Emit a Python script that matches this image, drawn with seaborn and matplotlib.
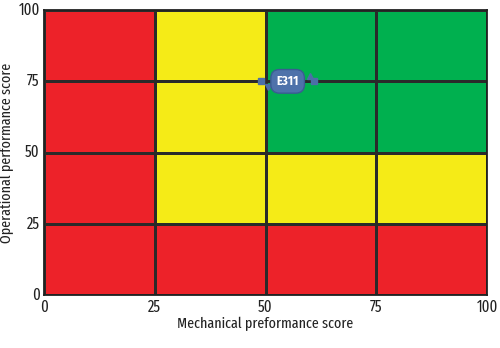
import numpy as np
import pandas as pd
import matplotlib
matplotlib.use("Agg")
import matplotlib.pyplot as plt
from matplotlib.colors import ListedColormap
import seaborn as sns

# Zone per cell: 0 = red, 1 = yellow, 2 = green (rows listed top to bottom)
zone_rows = [
    [0, 1, 2, 2],   # operational 75-100
    [0, 1, 2, 2],   # operational 50-75
    [0, 1, 1, 1],   # operational 25-50
    [0, 0, 0, 0],   # operational 0-25
]
x_ticks = [0, 25, 50, 75, 100]
y_ticks = [100, 75, 50, 25, 0]
zone_colors = ["#ED2229", "#F5EB17", "#00B04F"]

# Equipment position (mechanical score, operational score)
equip_name = "E311"
equip_mech = 55
equip_oper = 75

sns.set_theme(style="white")
narrow = ["Fira Sans Extra Condensed", "PT Sans Narrow", "DejaVu Sans"]
plt.rcParams["font.family"] = narrow

fig = plt.figure(figsize=(5.0, 3.48), dpi=100)
ax = fig.add_axes([0.088, 0.152, 0.886, 0.819])

grid = pd.DataFrame(zone_rows)
sns.heatmap(grid, ax=ax, cmap=ListedColormap(zone_colors), vmin=-0.5, vmax=2.5,
            cbar=False, linewidths=0.8, linecolor="#2a2a2a", square=False)

for s in ax.spines.values():
    s.set_visible(True)
    s.set_color("#222222")
    s.set_linewidth(1.3)

ax.set_xticks(np.arange(5))
ax.set_xticklabels([str(v) for v in x_ticks])
ax.set_yticks(np.arange(5))
ax.set_yticklabels([str(v) for v in y_ticks], rotation=0)
for lab in ax.get_xticklabels() + ax.get_yticklabels():
    lab.set_fontfamily(narrow)
    lab.set_fontsize(11.5)
    lab.set_color("#222222")
ax.tick_params(axis="both", length=0, pad=3)
font = dict(family=narrow, fontsize=11, color="#222222")
ax.set_xlabel("Mechanical preformance score", **font, labelpad=1)
ax.set_ylabel("Operational performance score", **font, labelpad=3)

# Equipment marker drawn as a small vessel icon
px = equip_mech / 25.0
py = (100 - equip_oper) / 25.0
ax.plot([px - 0.24, px + 0.24], [py, py], color="#4C6FA6", lw=0,
        marker="s", markersize=5, zorder=4)
ax.plot([px + 0.2], [py - 0.08], color="#4C6FA6", lw=0,
        marker="^", markersize=4, zorder=4)
ax.plot([px - 0.18], [py + 0.08], color="#4C6FA6", lw=0,
        marker="v", markersize=4, zorder=4)
ax.text(px, py, equip_name, ha="center", va="center", fontsize=9,
        fontweight="bold", color="white", zorder=5,
        family=["Fira Sans Condensed", "DejaVu Sans"],
        bbox=dict(boxstyle="round,pad=0.45,rounding_size=0.7",
                  facecolor="#4E72AA", edgecolor="#3A5C92", lw=1))

fig.savefig("out.png", dpi=100)
